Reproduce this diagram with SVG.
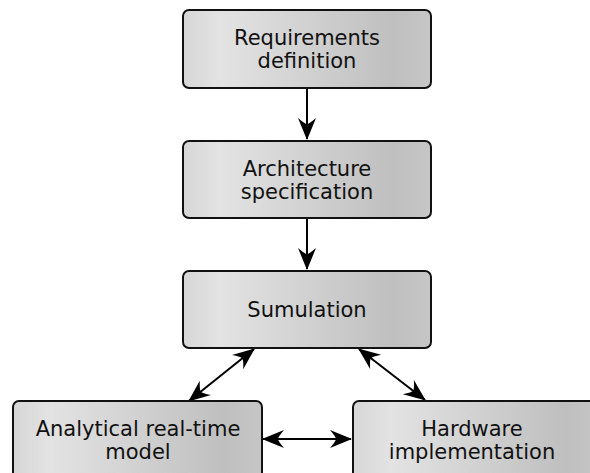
<svg xmlns="http://www.w3.org/2000/svg" width="590" height="473" viewBox="0 0 590 473">
  <defs>
    <linearGradient id="g" x1="0" y1="0" x2="1" y2="0">
      <stop offset="0" stop-color="#d6d6d6"/>
      <stop offset="0.15" stop-color="#e3e3e3"/>
      <stop offset="0.85" stop-color="#bfbfbf"/>
      <stop offset="1" stop-color="#c6c6c6"/>
    </linearGradient>
    <marker id="ah" markerUnits="userSpaceOnUse" viewBox="-23 -11 24 22" refX="0" refY="0" markerWidth="24" markerHeight="22" orient="auto-start-reverse">
      <path d="M1,0 L-21,-9 Q-15,-2 -15,0 Q-15,2 -21,9 Z" fill="#000"/>
    </marker>
    <style>
      .box { fill: url(#g); stroke: #111; stroke-width: 2; }
      .lbl { font-family: "DejaVu Sans", sans-serif; font-size: 21px; fill: #111; text-anchor: middle; }
      .c { fill: none; stroke: #000; stroke-width: 2; }
    </style>
  </defs>
  <rect width="590" height="473" fill="#fff"/>
  <g id="connectors">
    <path class="c" d="M307,88 L307,139" marker-end="url(#ah)"/>
    <path class="c" d="M307,218 L307,269" marker-end="url(#ah)"/>
    <path class="c" d="M254,349 L189,401" marker-start="url(#ah)" marker-end="url(#ah)"/>
    <path class="c" d="M359,349 L425,400" marker-start="url(#ah)" marker-end="url(#ah)"/>
    <path class="c" d="M263,439 L351,439" marker-start="url(#ah)" marker-end="url(#ah)"/>
  </g>
  <g id="requirements">
    <rect class="box" x="183" y="10" width="248" height="78" rx="6"/>
    <text class="lbl" x="307" y="45">Requirements</text>
    <text class="lbl" x="307" y="68">definition</text>
  </g>
  <g id="architecture">
    <rect class="box" x="183" y="141" width="248" height="77" rx="6"/>
    <text class="lbl" x="307" y="176">Architecture</text>
    <text class="lbl" x="307" y="199">specification</text>
  </g>
  <g id="simulation">
    <rect class="box" x="183" y="271" width="248" height="77" rx="6"/>
    <text class="lbl" x="307" y="317">Sumulation</text>
  </g>
  <g id="analytical">
    <rect class="box" x="13" y="401" width="249" height="90" rx="6"/>
    <text class="lbl" x="138" y="436">Analytical real-time</text>
    <text class="lbl" x="138" y="459">model</text>
  </g>
  <g id="hardware">
    <rect class="box" x="353" y="401" width="249" height="90" rx="6"/>
    <text class="lbl" x="472" y="436">Hardware</text>
    <text class="lbl" x="472" y="459">implementation</text>
  </g>
</svg>
